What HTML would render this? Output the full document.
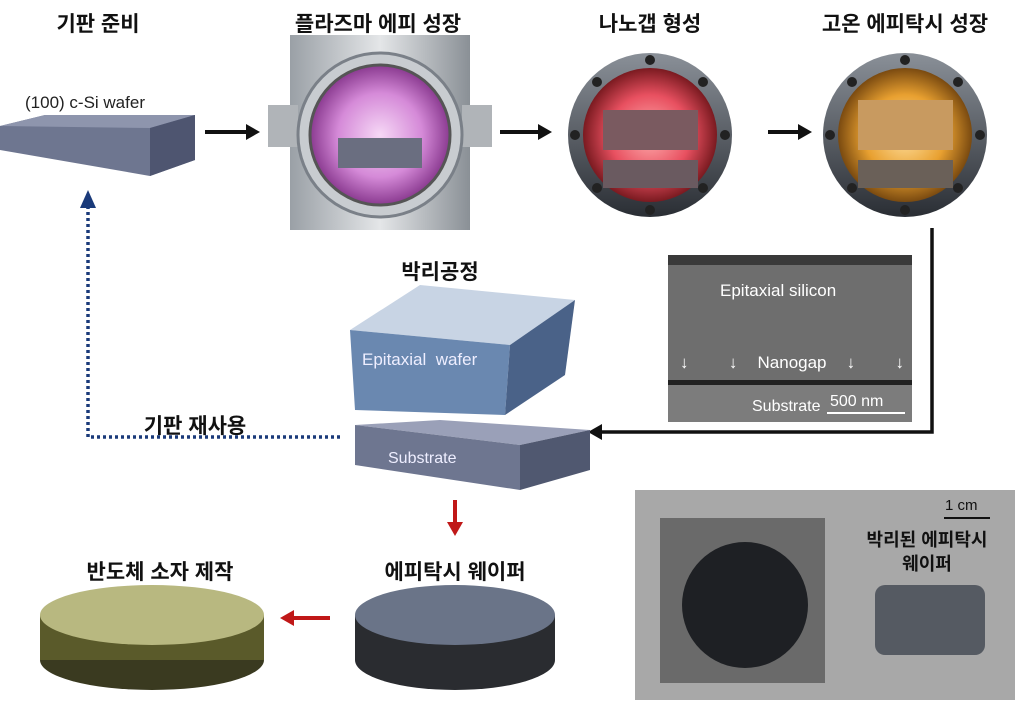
<!DOCTYPE html><html><head><meta charset="utf-8"><style>
body{margin:0;width:1024px;height:711px;background:#fff;position:relative;overflow:hidden;font-family:"Liberation Sans","Noto Sans CJK KR",sans-serif}
.t{position:absolute;font-weight:bold;font-size:21px;color:#111;transform:translateX(-50%);white-space:nowrap}
.a{position:absolute}
</style></head><body>
<svg class="a" style="left:0;top:0" width="1024" height="711">
<defs>
<radialGradient id="pu"><stop offset="0" stop-color="#f6d8f6"/><stop offset="0.6" stop-color="#d58ad8"/><stop offset="1" stop-color="#8a3a90"/></radialGradient>
<radialGradient id="rd"><stop offset="0" stop-color="#ffb0b0"/><stop offset="0.6" stop-color="#e85060"/><stop offset="1" stop-color="#7a1a20"/></radialGradient>
<radialGradient id="or"><stop offset="0" stop-color="#ffe0a0"/><stop offset="0.6" stop-color="#e8a030"/><stop offset="1" stop-color="#7a4a10"/></radialGradient>
<linearGradient id="sv" x1="0" x2="1"><stop offset="0" stop-color="#9aa0a6"/><stop offset="0.5" stop-color="#e4e6e8"/><stop offset="1" stop-color="#8a9096"/></linearGradient>
<linearGradient id="dk" x1="0" y1="0" x2="0" y2="1"><stop offset="0" stop-color="#8a9098"/><stop offset="1" stop-color="#2a2e34"/></linearGradient>
<marker id="ar" markerWidth="8" markerHeight="8" refX="6" refY="4" orient="auto" markerUnits="userSpaceOnUse"><path d="M0,0L8,4L0,8z" fill="#111"/></marker>
</defs>
<!-- wafer -->
<polygon points="0,126 45,115 195,115 195,160 150,176 0,150" fill="#6e7690"/>
<polygon points="0,126 45,115 195,115 150,128" fill="#8e95ad"/>
<polygon points="150,128 195,115 195,160 150,176" fill="#4e5570"/>
<!-- arrows -->
<path d="M205,132H250" stroke="#111" stroke-width="4"/><path d="M246,124L260,132L246,140z" fill="#111"/>
<path d="M500,132H540" stroke="#111" stroke-width="4"/><path d="M538,124L552,132L538,140z" fill="#111"/>
<path d="M768,132H800" stroke="#111" stroke-width="4"/><path d="M798,124L812,132L798,140z" fill="#111"/>
<!-- chamber 1 -->
<rect x="290" y="35" width="180" height="195" fill="url(#sv)"/>
<rect x="268" y="105" width="30" height="42" fill="#b0b4b8"/><rect x="462" y="105" width="30" height="42" fill="#b0b4b8"/>
<circle cx="380" cy="135" r="82" fill="#c8ccd0" stroke="#7a8088" stroke-width="3"/>
<circle cx="380" cy="135" r="70" fill="url(#pu)" stroke="#555" stroke-width="3"/>
<rect x="338" y="138" width="84" height="30" fill="#6a6e80"/>
<!-- chamber 2 -->
<circle cx="650" cy="135" r="82" fill="url(#dk)"/>
<circle cx="650" cy="135" r="67" fill="url(#rd)"/>
<rect x="603" y="110" width="95" height="40" fill="#7a5a60"/><rect x="603" y="160" width="95" height="28" fill="#6a5a60"/>
<!-- chamber 3 -->
<circle cx="905" cy="135" r="82" fill="url(#dk)"/>
<circle cx="905" cy="135" r="67" fill="url(#or)"/>
<rect x="858" y="100" width="95" height="50" fill="#c89a60"/><rect x="858" y="160" width="95" height="28" fill="#6a6058"/>
<!-- bolts -->
<g fill="#222">
<circle cx="650" cy="60" r="5"/><circle cx="650" cy="210" r="5"/><circle cx="575" cy="135" r="5"/><circle cx="725" cy="135" r="5"/><circle cx="597" cy="82" r="5"/><circle cx="703" cy="82" r="5"/><circle cx="597" cy="188" r="5"/><circle cx="703" cy="188" r="5"/>
<circle cx="905" cy="60" r="5"/><circle cx="905" cy="210" r="5"/><circle cx="830" cy="135" r="5"/><circle cx="980" cy="135" r="5"/><circle cx="852" cy="82" r="5"/><circle cx="958" cy="82" r="5"/><circle cx="852" cy="188" r="5"/><circle cx="958" cy="188" r="5"/>
</g>
<!-- connector -->
<path d="M932,228V432H600" fill="none" stroke="#111" stroke-width="3.5"/>
<path d="M602,424L588,432L602,440z" fill="#111"/>
<!-- SEM -->
<rect x="668" y="255" width="244" height="167" fill="#6e6e6e"/>
<rect x="668" y="255" width="244" height="10" fill="#3a3a3a"/>
<rect x="668" y="380" width="244" height="5" fill="#222"/>
<rect x="668" y="385" width="244" height="37" fill="#7c7c7c"/>
<line x1="827" y1="413" x2="905" y2="413" stroke="#fff" stroke-width="2"/>
<!-- epi cube -->
<polygon points="350,330 420,285 575,300 510,345" fill="#c8d4e4"/>
<polygon points="350,330 510,345 505,415 355,410" fill="#6a88b0"/>
<polygon points="510,345 575,300 565,375 505,415" fill="#4a6288"/>
<!-- substrate -->
<polygon points="355,425 440,420 590,430 520,445" fill="#9aa0b8"/>
<polygon points="355,425 520,445 520,490 355,465" fill="#6e7690"/>
<polygon points="520,445 590,430 590,470 520,490" fill="#505870"/>
<!-- dotted -->
<path d="M340,437H88V200" fill="none" stroke="#1a3a7a" stroke-width="3.5" stroke-dasharray="3,3"/>
<path d="M80,208L88,190L96,208z" fill="#1a3a7a"/>
<!-- red arrows -->
<path d="M455,500V525" stroke="#c01818" stroke-width="4"/><path d="M447,522L455,536L463,522z" fill="#c01818"/>
<path d="M330,618H292" stroke="#c01818" stroke-width="4"/><path d="M294,610L280,618L294,626z" fill="#c01818"/>
<!-- epi wafer stack -->
<ellipse cx="455" cy="660" rx="100" ry="30" fill="#2a2c30"/>
<rect x="355" y="615" width="200" height="45" fill="#2a2c30"/>
<ellipse cx="455" cy="615" rx="100" ry="30" fill="#6a7488"/>
<!-- device stack -->
<ellipse cx="152" cy="660" rx="112" ry="30" fill="#3a3a20"/>
<rect x="40" y="615" width="224" height="45" fill="#5a5a2a"/>
<ellipse cx="152" cy="615" rx="112" ry="30" fill="#b8b880"/>
<!-- photo -->
<rect x="635" y="490" width="380" height="210" fill="#a8a8a8"/>
<rect x="660" y="518" width="165" height="165" fill="#6a6a6a"/>
<circle cx="745" cy="605" r="63" fill="#1e2024"/>
<rect x="875" y="585" width="110" height="70" rx="10" fill="#555a62"/>
<line x1="944" y1="518" x2="990" y2="518" stroke="#111" stroke-width="2"/>
</svg>
<div class="t" style="left:98px;top:8px">기판 준비</div>
<div class="t" style="left:378px;top:8px">플라즈마 에피 성장</div>
<div class="t" style="left:650px;top:8px">나노갭 형성</div>
<div class="t" style="left:905px;top:8px">고온 에피탁시 성장</div>
<div class="a" style="left:25px;top:93px;font-size:17px;color:#222">(100) c-Si wafer</div>
<div class="t" style="left:440px;top:256px">박리공정</div>
<div class="t" style="left:195px;top:410px">기판 재사용</div>
<div class="t" style="left:455px;top:556px">에피탁시 웨이퍼</div>
<div class="t" style="left:160px;top:556px">반도체 소자 제작</div>
<div class="a" style="left:362px;top:350px;font-size:17px;color:#eef">Epitaxial&nbsp; wafer</div>
<div class="a" style="left:388px;top:450px;font-size:16px;color:#eef">Substrate</div>
<div class="a" style="left:720px;top:281px;font-size:17px;color:#fff">Epitaxial silicon</div>
<div class="a" style="left:680px;top:353px;font-size:17px;color:#fff;word-spacing:2px">↓ &nbsp;&nbsp;&nbsp;&nbsp;&nbsp;↓ &nbsp;&nbsp;Nanogap &nbsp;&nbsp;↓ &nbsp;&nbsp;&nbsp;&nbsp;&nbsp;↓</div>
<div class="a" style="left:752px;top:398px;font-size:16px;color:#fff">Substrate</div>
<div class="a" style="left:830px;top:393px;font-size:16px;color:#fff">500 nm</div>
<div class="a" style="left:945px;top:497px;font-size:15px;color:#111">1 cm</div>
<div class="t" style="left:927px;top:528px;font-size:18px;line-height:24px;text-align:center">박리된 에피탁시<br>웨이퍼</div>
</body></html>
